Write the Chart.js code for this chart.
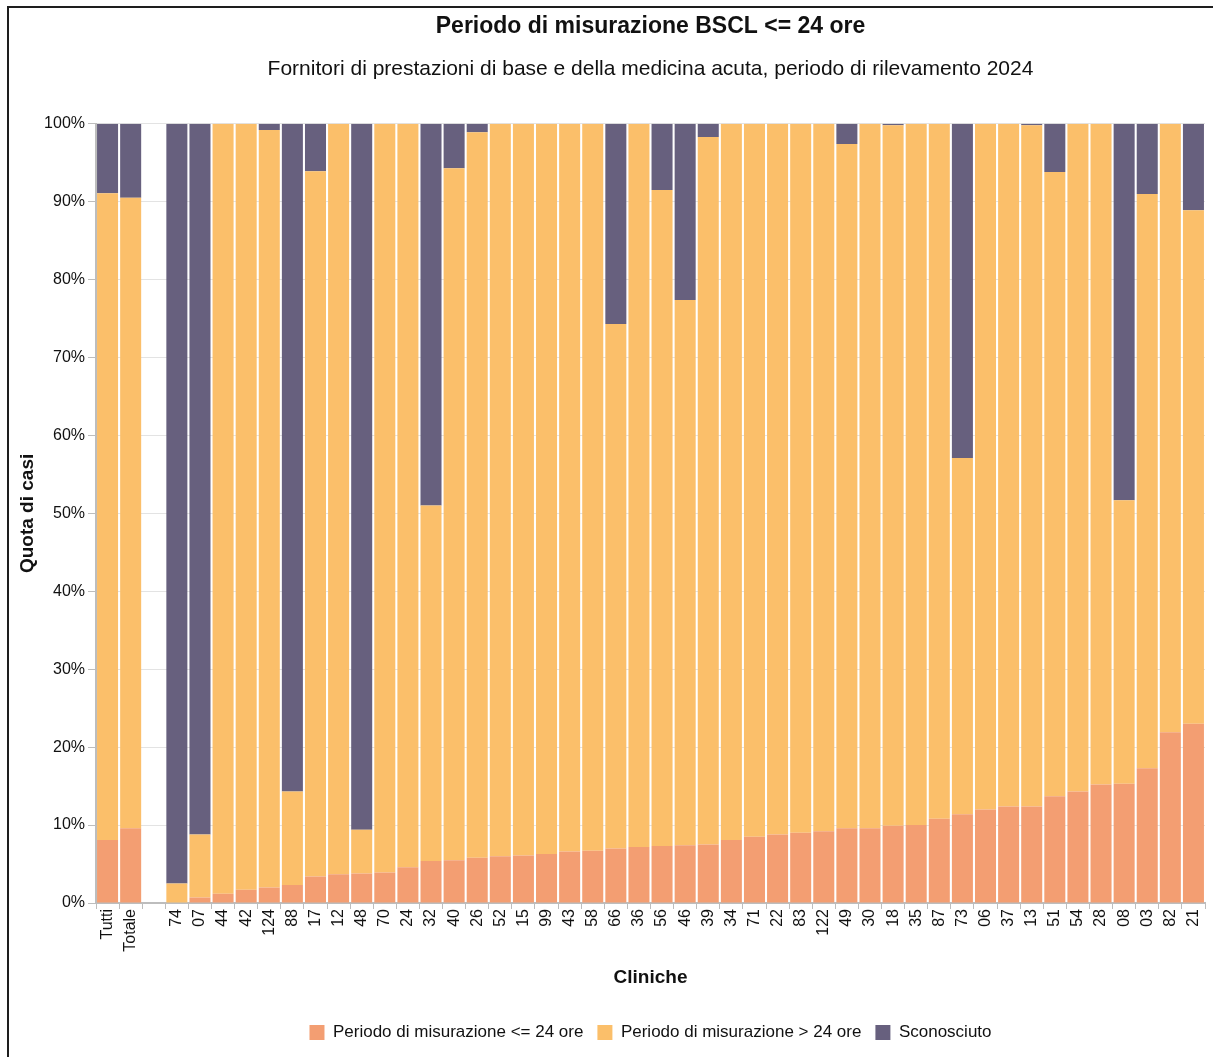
<!DOCTYPE html>
<html lang="it">
<head>
<meta charset="utf-8">
<title>Periodo di misurazione BSCL</title>
<script src="https://cdn.jsdelivr.net/npm/chart.js"></script>
<style>
    html, body { margin: 0; padding: 0; background: #fff; overflow: hidden; }
    #frame {
        position: absolute; left: 7px; top: 6px;
        width: 1300px; height: 1100px;
        border-left: 2px solid #1e1e1e; border-top: 2px solid #1e1e1e;
    }
    #wrap { position: absolute; left: 0; top: 0; width: 1213px; height: 1057px; }
</style>
</head>
<body>
<div id="frame"></div>
<div id="wrap"><canvas id="bsclChart"></canvas></div>
<script>
// cliniche (la categoria vuota è lo spazio dopo "Totale")
const cliniche = ['Tutti', 'Totale', '', '74', '07', '44', '42', '124', '88', '17', '12', '48', '70', '24',
    '32', '40', '26', '52', '15', '99', '43', '58', '66', '36', '56', '46', '39', '34', '71', '22', '83',
    '122', '49', '30', '18', '35', '87', '73', '06', '37', '13', '51', '54', '28', '08', '03', '82', '21'];

// quote in %
const quotaFino24 = [8.1, 9.6, null, 0, 0.7, 1.2, 1.7, 2.0, 2.3, 3.4, 3.7, 3.8, 3.9, 4.6,
    5.4, 5.5, 5.8, 6.0, 6.1, 6.3, 6.6, 6.7, 7.0, 7.2, 7.3, 7.4, 7.5, 8.1, 8.5, 8.8, 9.0,
    9.2, 9.6, 9.6, 9.9, 10.0, 10.8, 11.4, 12.0, 12.4, 12.4, 13.7, 14.3, 15.2, 15.3, 17.3, 21.9, 23.0];
const quotaOltre24 = [83.0, 80.9, null, 2.5, 8.1, 98.8, 98.3, 97.2, 12.0, 90.5, 96.3, 5.6, 96.1, 95.4,
    45.6, 88.8, 93.1, 94.0, 93.9, 93.7, 93.4, 93.3, 67.3, 92.8, 84.2, 70.0, 90.8, 91.9, 91.5, 91.2, 91.0,
    90.8, 87.8, 90.4, 89.9, 90.0, 89.2, 45.7, 88.0, 87.6, 87.4, 80.1, 85.7, 84.8, 36.4, 73.7, 78.1, 65.9];
const quotaSconosciuto = [8.9, 9.5, null, 97.5, 91.2, 0, 0, 0.8, 85.7, 6.1, 0, 90.6, 0, 0,
    49.0, 5.7, 1.1, 0, 0, 0, 0, 0, 25.7, 0, 8.5, 22.6, 1.7, 0, 0, 0, 0,
    0, 2.6, 0, 0.2, 0, 0, 42.9, 0, 0, 0.2, 6.2, 0, 0, 48.3, 9.0, 0, 11.1];

const yTicks = [0, 10, 20, 30, 40, 50, 60, 70, 80, 90, 100];

const FONT = "'Liberation Sans', Arial, sans-serif";
const GRID = '#e3e3e3';
const AXIS = '#bdbdbd';

const barDefaults = { barPercentage: 0.91, categoryPercentage: 1.0, borderWidth: 0, stack: 's' };

const ctx = document.getElementById('bsclChart').getContext('2d');
new Chart(ctx, {
    type: 'bar',
    data: {
        labels: cliniche,
        datasets: [
            { label: 'Periodo di misurazione <= 24 ore', data: quotaFino24, backgroundColor: '#F39E72', ...barDefaults },
            { label: 'Periodo di misurazione > 24 ore', data: quotaOltre24, backgroundColor: '#FBBF6A', ...barDefaults },
            { label: 'Sconosciuto', data: quotaSconosciuto, backgroundColor: '#67607E', ...barDefaults }
        ]
    },
    options: {
        responsive: true,
        maintainAspectRatio: false,
        animation: false,
        layout: { padding: { left: 8, right: 8, top: 0, bottom: 6 } },
        scales: {
            x: {
                stacked: true,
                offset: true,
                grid: { display: true, drawOnChartArea: false, drawTicks: true, tickLength: 6, tickColor: AXIS, offset: true },
                border: { display: true, color: AXIS, width: 2 },
                ticks: { color: '#111', font: { family: FONT, size: 16 }, minRotation: 90, maxRotation: 90, autoSkip: false, padding: 0 },
                title: { display: true, text: 'Cliniche', color: '#111', font: { family: FONT, size: 19, weight: 'bold' }, padding: { top: 0, bottom: 21 } },
                afterFit: (scale) => { scale.height = 107; }
            },
            y: {
                stacked: true,
                min: 0,
                max: 100,
                afterBuildTicks: (scale) => { scale.ticks = yTicks.map(v => ({ value: v })); },
                grid: { color: GRID, lineWidth: 1, tickLength: 8, tickColor: AXIS },
                border: { display: true, color: AXIS, width: 2 },
                ticks: { color: '#111', font: { family: FONT, size: 16 }, padding: 3, callback: (v) => v + '%' },
                title: { display: true, text: 'Quota di casi', color: '#111', font: { family: FONT, size: 19, weight: 'bold' }, padding: { top: 8, bottom: 0 } },
                afterFit: (scale) => { scale.width = 88; }
            }
        },
        plugins: {
            title: {
                display: true, fullSize: false,
                text: 'Periodo di misurazione BSCL <= 24 ore',
                color: '#111', font: { family: FONT, size: 23, weight: 'bold' },
                padding: { top: 13, bottom: 8 }
            },
            subtitle: {
                display: true, fullSize: false,
                text: 'Fornitori di prestazioni di base e della medicina acuta, periodo di rilevamento 2024',
                color: '#111', font: { family: FONT, size: 21 },
                padding: { top: 8, bottom: 42 }
            },
            legend: {
                position: 'bottom', fullSize: false,
                labels: { color: '#111', font: { family: FONT, size: 17 }, boxWidth: 15, boxHeight: 15, padding: 14 }
            },
            tooltip: { enabled: false }
        }
    }
});
</script>
</body>
</html>
